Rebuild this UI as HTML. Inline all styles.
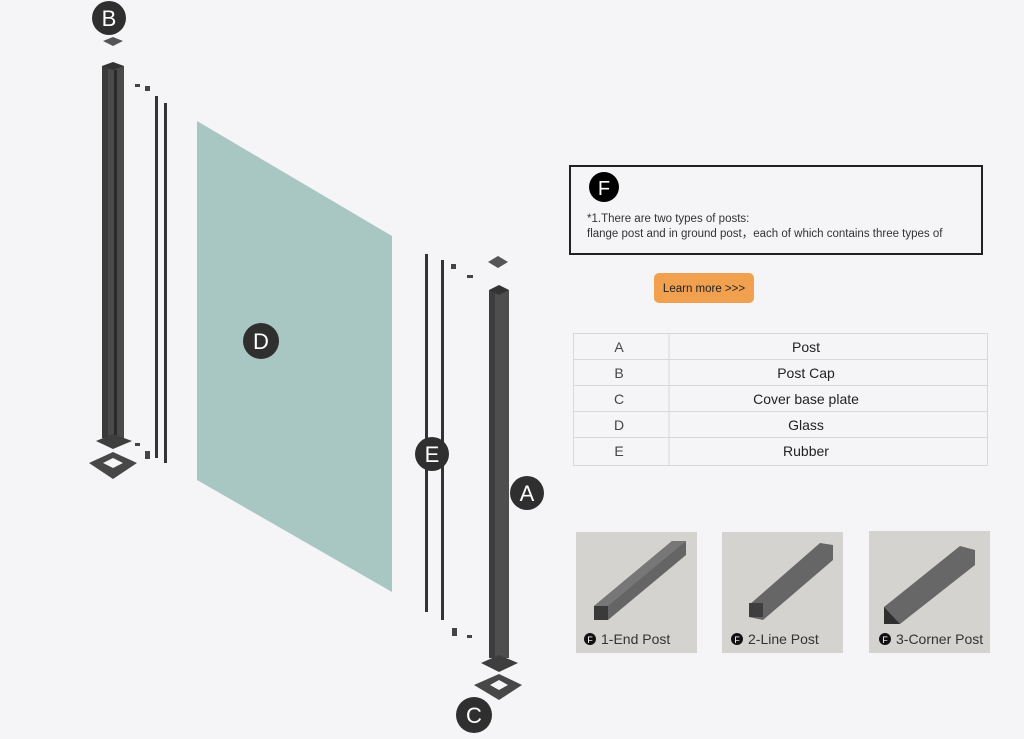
<!DOCTYPE html>
<html><head><meta charset="utf-8"><style>
html,body{margin:0;padding:0;background:#f5f5f7;}
svg{display:block;font-family:"Liberation Sans",sans-serif;}
</style></head><body>
<svg width="1024" height="739" viewBox="0 0 1024 739" xmlns="http://www.w3.org/2000/svg">
<rect width="1024" height="739" fill="#f5f5f7"/>
<!-- Left post -->
<circle cx="109" cy="18" r="17" fill="#2f2f2f"/>
<text x="109" y="26" font-size="22" fill="#fff" text-anchor="middle">B</text>
<polygon points="103,41 113,37 123,41 113,46" fill="#555"/>
<rect x="102" y="66" width="22" height="372" fill="#4a4a4a"/>
<rect x="102" y="66" width="6" height="372" fill="#3a3a3a"/>
<rect x="114" y="70" width="3" height="366" fill="#2a2a2a"/>
<polygon points="102,66 113,62 124,66 113,70" fill="#333"/>
<polygon points="96,441 113,434 132,441 113,449" fill="#3e3e3e"/>
<polygon points="89,463 113,452 137,463 113,479" fill="#474747"/>
<polygon points="103,463 113,458 123,463 113,468" fill="#f5f5f7"/>
<rect x="155" y="96" width="3" height="362" fill="#333"/>
<rect x="164" y="103" width="3" height="360" fill="#333"/>
<rect x="135" y="84" width="5" height="3" fill="#444"/>
<rect x="145" y="86" width="5" height="5" fill="#444"/>
<rect x="135" y="443" width="5" height="3" fill="#444"/>
<rect x="145" y="451" width="5" height="8" fill="#444"/>
<!-- Glass -->
<polygon points="197,121 392,236 392,592 197,480" fill="#a8c6c2"/>
<circle cx="261" cy="341" r="18" fill="#2f2f2f"/>
<text x="261" y="349" font-size="22" fill="#fff" text-anchor="middle">D</text>
<!-- Right post -->
<rect x="425" y="254" width="3" height="358" fill="#333"/>
<rect x="441" y="260" width="3" height="360" fill="#333"/>
<rect x="451" y="264" width="5" height="5" fill="#444"/>
<rect x="467" y="275" width="6" height="3" fill="#444"/>
<rect x="452" y="628" width="5" height="8" fill="#444"/>
<rect x="467" y="635" width="5" height="3" fill="#444"/>
<polygon points="488,262 498,256 508,262 498,268" fill="#555"/>
<rect x="489" y="290" width="20" height="368" fill="#4e4e4e"/>
<rect x="489" y="290" width="6" height="368" fill="#3d3d3d"/>
<polygon points="489,290 499,285 509,290 499,295" fill="#333"/>
<polygon points="481,663 499,655 518,663 499,672" fill="#3e3e3e"/>
<polygon points="474,685 499,674 522,685 499,700" fill="#474747"/>
<polygon points="490,685 499,680 508,685 499,690" fill="#f5f5f7"/>
<circle cx="432" cy="454" r="17" fill="#2f2f2f"/>
<text x="432" y="462" font-size="22" fill="#fff" text-anchor="middle">E</text>
<circle cx="527" cy="493" r="17" fill="#2f2f2f"/>
<text x="527" y="501" font-size="22" fill="#fff" text-anchor="middle">A</text>
<circle cx="474" cy="715" r="18" fill="#2f2f2f"/>
<text x="474" y="723" font-size="22" fill="#fff" text-anchor="middle">C</text>
<!-- F box -->
<rect x="570" y="166" width="412" height="88" fill="#f5f5f7" stroke="#222" stroke-width="2"/>
<circle cx="604" cy="187" r="15" fill="#000"/>
<text x="604" y="195" font-size="20" fill="#fff" text-anchor="middle">F</text>
<text x="587" y="222" font-size="11.5" fill="#333">*1.There are two types of posts:</text>
<text x="587" y="237" font-size="11.5" fill="#333">flange post and in ground post，each of which contains three types of</text>
<rect x="654" y="273" width="100" height="30" rx="5" fill="#f0a04e"/>
<text x="704" y="292" font-size="11.5" fill="#222" text-anchor="middle">Learn more &gt;&gt;&gt;</text>
<!-- Table -->
<g stroke="#d8d8d8" stroke-width="1" fill="none">
<rect x="573.5" y="333.5" width="414" height="132"/>
<line x1="669" y1="333" x2="669" y2="466"/>
<line x1="573" y1="359.5" x2="988" y2="359.5"/>
<line x1="573" y1="385.5" x2="988" y2="385.5"/>
<line x1="573" y1="411.5" x2="988" y2="411.5"/>
<line x1="573" y1="437.5" x2="988" y2="437.5"/>
</g>
<g font-size="14" fill="#222" text-anchor="middle">
<text x="619" y="352" fill="#444">A</text><text x="806" y="352">Post</text>
<text x="619" y="378" fill="#444">B</text><text x="806" y="378">Post Cap</text>
<text x="619" y="404" fill="#444">C</text><text x="806" y="404">Cover base plate</text>
<text x="619" y="430" fill="#444">D</text><text x="806" y="430">Glass</text>
<text x="619" y="456" fill="#444">E</text><text x="806" y="456">Rubber</text>
</g>
<!-- Tiles -->
<rect x="576" y="532" width="121" height="121" fill="#d5d3d0"/>
<polygon points="594,606 672,541 686,541 686,555 608,620 594,620" fill="#656565"/>
<polygon points="594,606 608,606 686,541 672,541" fill="#777"/>
<rect x="594" y="606" width="14" height="14" fill="#3a3a3a"/>
<circle cx="590" cy="639" r="6" fill="#111"/><text x="590" y="643" font-size="9" fill="#fff" text-anchor="middle">F</text>
<text x="601" y="644" font-size="14" fill="#333">1-End Post</text>
<rect x="722" y="532" width="121" height="121" fill="#d5d3d0"/>
<polygon points="749,605 820,543 833,545 833,560 763,620 749,617" fill="#666"/>
<rect x="749" y="603" width="14" height="14" fill="#3e3e3e"/>
<circle cx="737" cy="639" r="6" fill="#111"/><text x="737" y="643" font-size="9" fill="#fff" text-anchor="middle">F</text>
<text x="748" y="644" font-size="14" fill="#333">2-Line Post</text>
<rect x="869" y="531" width="121" height="122" fill="#d5d3d0"/>
<polygon points="884,607 960,546 975,550 975,565 900,624 884,624" fill="#676767"/>
<polygon points="884,607 900,624 884,624" fill="#2f2f2f"/>
<circle cx="885" cy="639" r="6" fill="#111"/><text x="885" y="643" font-size="9" fill="#fff" text-anchor="middle">F</text>
<text x="896" y="644" font-size="14" fill="#333">3-Corner Post</text>
</svg>
</body></html>
